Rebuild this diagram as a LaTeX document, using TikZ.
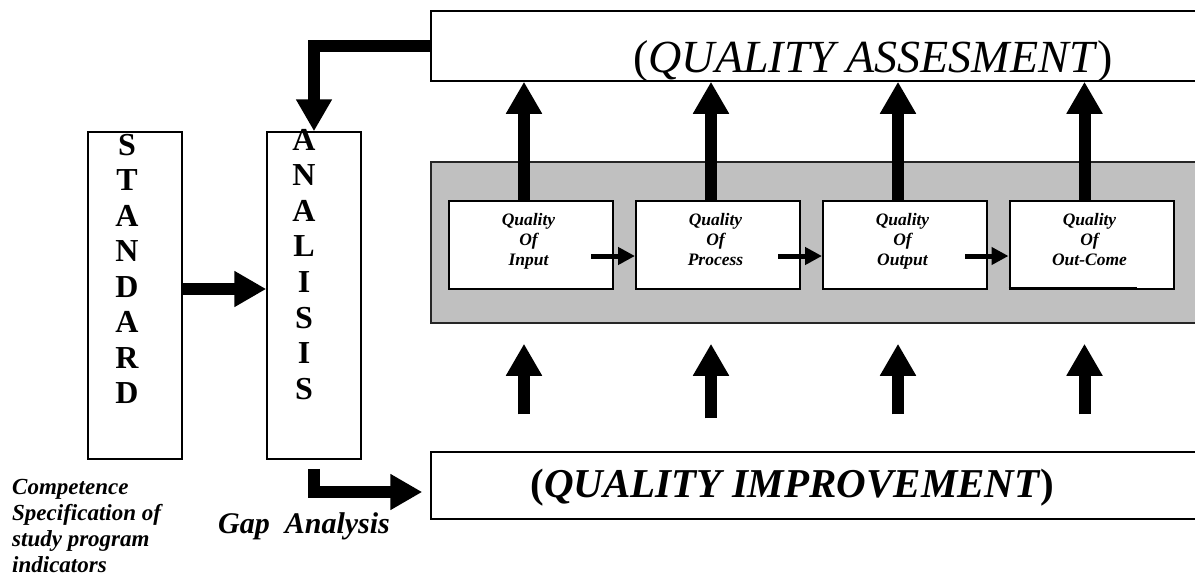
\documentclass[tikz,border=0pt]{standalone}
\usepackage{fontspec}
\setmainfont{Liberation Serif}
\usetikzlibrary{arrows.meta,calc}
\definecolor{panelgray}{HTML}{C0C0C0}
\tikzset{
  box/.style={draw=black, line width=1.5pt, fill=white, inner sep=0pt},
  qbox/.style={box, line width=2pt, minimum width=164pt, minimum height=88pt},
  txt/.style={inner sep=0pt, anchor=base},
  bigarrow/.style={line width=12pt, -{Triangle[width=34pt,length=32pt]}},
  smallarrow/.style={line width=5pt, -{Triangle[width=17pt,length=17pt]}},
}
\begin{document}
\begin{tikzpicture}[x=1pt,y=-1pt]
\path[use as bounding box, clip] (0,0) rectangle (1195,576);
\fill[white] (0,0) rectangle (1195,576);

% boxes
\node[box, minimum width=779pt, minimum height=70pt] (assess) at (820.5,46) {};
\node[box, draw=black!85, fill=panelgray, minimum width=779pt, minimum height=161pt] (panel) at (820.5,242.5) {};
\node[box, minimum width=779pt, minimum height=67pt] (improve) at (820.5,485.5) {};
\node[box, minimum width=94pt, minimum height=327pt] (standard) at (135,295.5) {};
\node[box, minimum width=94pt, minimum height=327pt] (analisis) at (314,295.5) {};

\node[qbox] (q1) at (531,245) {};
\node[qbox] (q2) at (718,245) {};
\node[qbox] (q3) at (905,245) {};
\node[qbox] (q4) at (1091.5,245) {};
\draw[line width=2pt] ($(q4.south west)+(0,-2)$) -- ++(128,0);

% texts
\node[txt] (assesst) at (873,72) {\fontsize{46}{50}\selectfont(\textit{QUALITY ASSESMENT})};
\node[txt] (improvet) at (792.5,497) {\fontsize{41}{45}\selectfont\bfseries(\textit{QUALITY IMPROVEMENT})};
\node[txt] (standardt) at (127,155) {\fontsize{32}{35.5}\selectfont\bfseries
  \begin{tabular}[t]{@{}c@{}}S\\T\\A\\N\\D\\A\\R\\D\end{tabular}};
\node[txt] (analisist) at (304,150) {\fontsize{32}{35.6}\selectfont\bfseries
  \begin{tabular}[t]{@{}c@{}}A\\N\\A\\L\\I\\S\\I\\S\end{tabular}};
\node[txt] (t1) at (528.5,225) {\fontsize{17.5}{20}\selectfont\bfseries\itshape
  \begin{tabular}[t]{@{}c@{}}Quality\\Of\\Input\end{tabular}};
\node[txt] (t2) at (715.5,225) {\fontsize{17.5}{20}\selectfont\bfseries\itshape
  \begin{tabular}[t]{@{}c@{}}Quality\\Of\\Process\end{tabular}};
\node[txt] (t3) at (902.5,225) {\fontsize{17.5}{20}\selectfont\bfseries\itshape
  \begin{tabular}[t]{@{}c@{}}Quality\\Of\\Output\end{tabular}};
\node[txt] (t4) at (1089.5,225) {\fontsize{17.5}{20}\selectfont\bfseries\itshape
  \begin{tabular}[t]{@{}c@{}}Quality\\Of\\Out-Come\end{tabular}};
\node[txt, anchor=base west] (gap) at (218,533) {\fontsize{30}{34}\selectfont\bfseries\itshape Gap\ \ Analysis};
\node[txt, anchor=base west] (comp) at (12,494) {\fontsize{23}{26.2}\selectfont\bfseries\itshape
  \vtop{\halign{#\hfil\cr Competence\cr Specification of\cr study program\cr indicators\cr}}};

% connectors
\draw[bigarrow] (assess.west) -| (analisis.north);
\draw[bigarrow] ([yshift=6.5pt]standard.east) -- ([yshift=6.5pt]analisis.west);
\coordinate (gs) at ([yshift=-9pt]analisis.south);
\draw[bigarrow, shorten >=8pt] (gs) |- ([yshift=-6.5pt]improve.west);

\foreach \i/\s in {1/37,2/33,3/37,4/37} {
  \coordinate (a\i) at ([xshift=-7pt]q\i.north);
  \draw[bigarrow] (a\i) -- (a\i |- assess.south);
  \draw[bigarrow, shorten <=\s pt, shorten >=20pt] (a\i |- improve.north) -- (a\i |- panel.south);
}

\draw[smallarrow] ($(q1.east)+(-23,11)$) -- ($(q2.west)+(0,11)$);
\draw[smallarrow] ($(q2.east)+(-23,11)$) -- ($(q3.west)+(0,11)$);
\draw[smallarrow] ($(q3.east)+(-23,11)$) -- ($(q4.west)+(0,11)$);
\end{tikzpicture}
\end{document}
